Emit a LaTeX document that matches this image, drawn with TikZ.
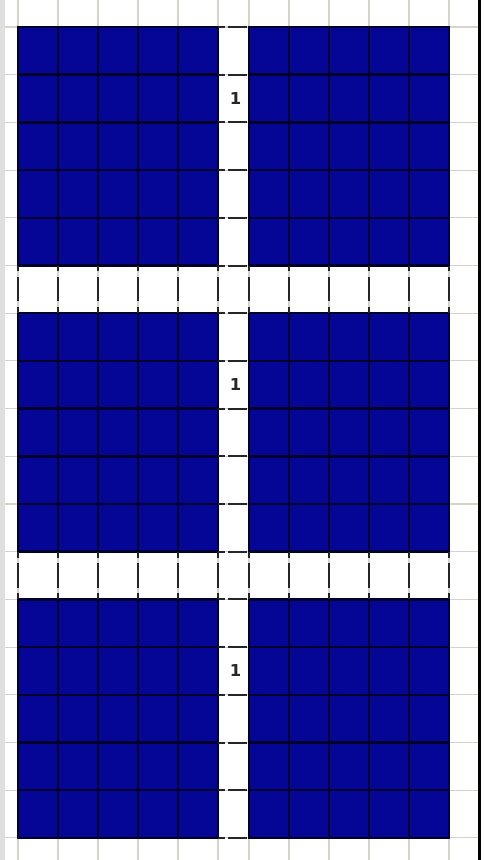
\documentclass[tikz,border=0pt]{standalone}
\usepackage{fontspec}
\setsansfont{DejaVu Sans}

\definecolor{navyfill}{RGB}{6,6,150}
\definecolor{navyline}{RGB}{0,0,45}
\definecolor{paperline}{RGB}{212,212,200}

\begin{document}
\begin{tikzpicture}[
  x=0.03cm, y=-0.03cm,
  paper/.style={paperline, line width=0.9pt},
  cellline/.style={navyline, line width=2.2pt},
  stripdash/.style={black!85, line width=1.7pt, dash pattern=on 5pt off 5pt on 20.6pt off 5pt on 5pt off 5pt},
  crossdash/.style={black!85, line width=1.7pt, dash pattern=on 6pt off 2.5pt on 16pt off 5pt},
  onelabel/.style={font=\sffamily\bfseries\fontsize{14}{14}\selectfont, text=black!85, inner sep=0pt},
]

% Grid dimensions (pixels of the sheet)
\def\cw{40}       % cell width
\def\rh{47.7}     % cell height
\def\lx{18}       % left edge of the blocks
\def\ty{27}       % top edge of the blocks
\def\sw{31}       % width of the middle strip

% Derived positions
\pgfmathsetmacro{\bw}{5*\cw}             % block width
\pgfmathsetmacro{\bh}{5*\rh}             % block height
\pgfmathsetmacro{\rx}{\lx+\bw+\sw}       % right column x
\pgfmathsetmacro{\mx}{\lx+\bw}           % middle strip x

% ============================================================
% SHEET
% ============================================================
\fill[white] (0,0) rectangle (486,860);
\useasboundingbox (0,0) rectangle (486,860);
\fill[gray!25] (0,0) rectangle (5,860);

\foreach \i in {0,...,5} {
  \draw[paper] (\lx+\i*\cw,0) -- ++(0,860);
  \draw[paper] (\rx+\i*\cw,0) -- ++(0,860);
}
\foreach \k in {0,...,17}
  \draw[paper] (5,\ty+\k*\rh) -- (478,\ty+\k*\rh);

\fill[black] (478,0) rectangle (481,860);

% ============================================================
% BLUE BLOCKS (3 rows x 2 columns, 5x5 cells each)
% ============================================================
\foreach \b in {0,1,2} {
  \pgfmathsetmacro{\by}{\ty+6*\b*\rh}
  \foreach \bx in {\lx,\rx} {
    \fill[navyfill] (\bx,\by) rectangle ++(\bw,\bh);
    \foreach \i in {1,...,4} {
      \draw[cellline] (\bx+\i*\cw,\by) -- ++(0,\bh);
      \draw[cellline] (\bx,\by+\i*\rh) -- ++(\bw,0);
    }
    \draw[cellline] (\bx,\by) rectangle ++(\bw,\bh);
  }
}

% ============================================================
% WHITE STRIPS
% ============================================================
\foreach \s in {5,11} {
  \foreach \i in {0,...,5} {
    \draw[stripdash] (\lx+\i*\cw,\ty+\s*\rh) -- ++(0,\rh);
    \draw[stripdash] (\rx+\i*\cw,\ty+\s*\rh) -- ++(0,\rh);
  }
}
\foreach \k in {0,...,17}
  \draw[crossdash] (\mx,\ty+\k*\rh) -- ++(\sw,0);

% ============================================================
% LABELS
% ============================================================
\node[onelabel] (one1) at (\mx+\sw/2+2,\ty+1.5*\rh) {1};
\node[onelabel] (one2) at (\mx+\sw/2+2,\ty+7.5*\rh) {1};
\node[onelabel] (one3) at (\mx+\sw/2+2,\ty+13.5*\rh) {1};

\end{tikzpicture}
\end{document}
